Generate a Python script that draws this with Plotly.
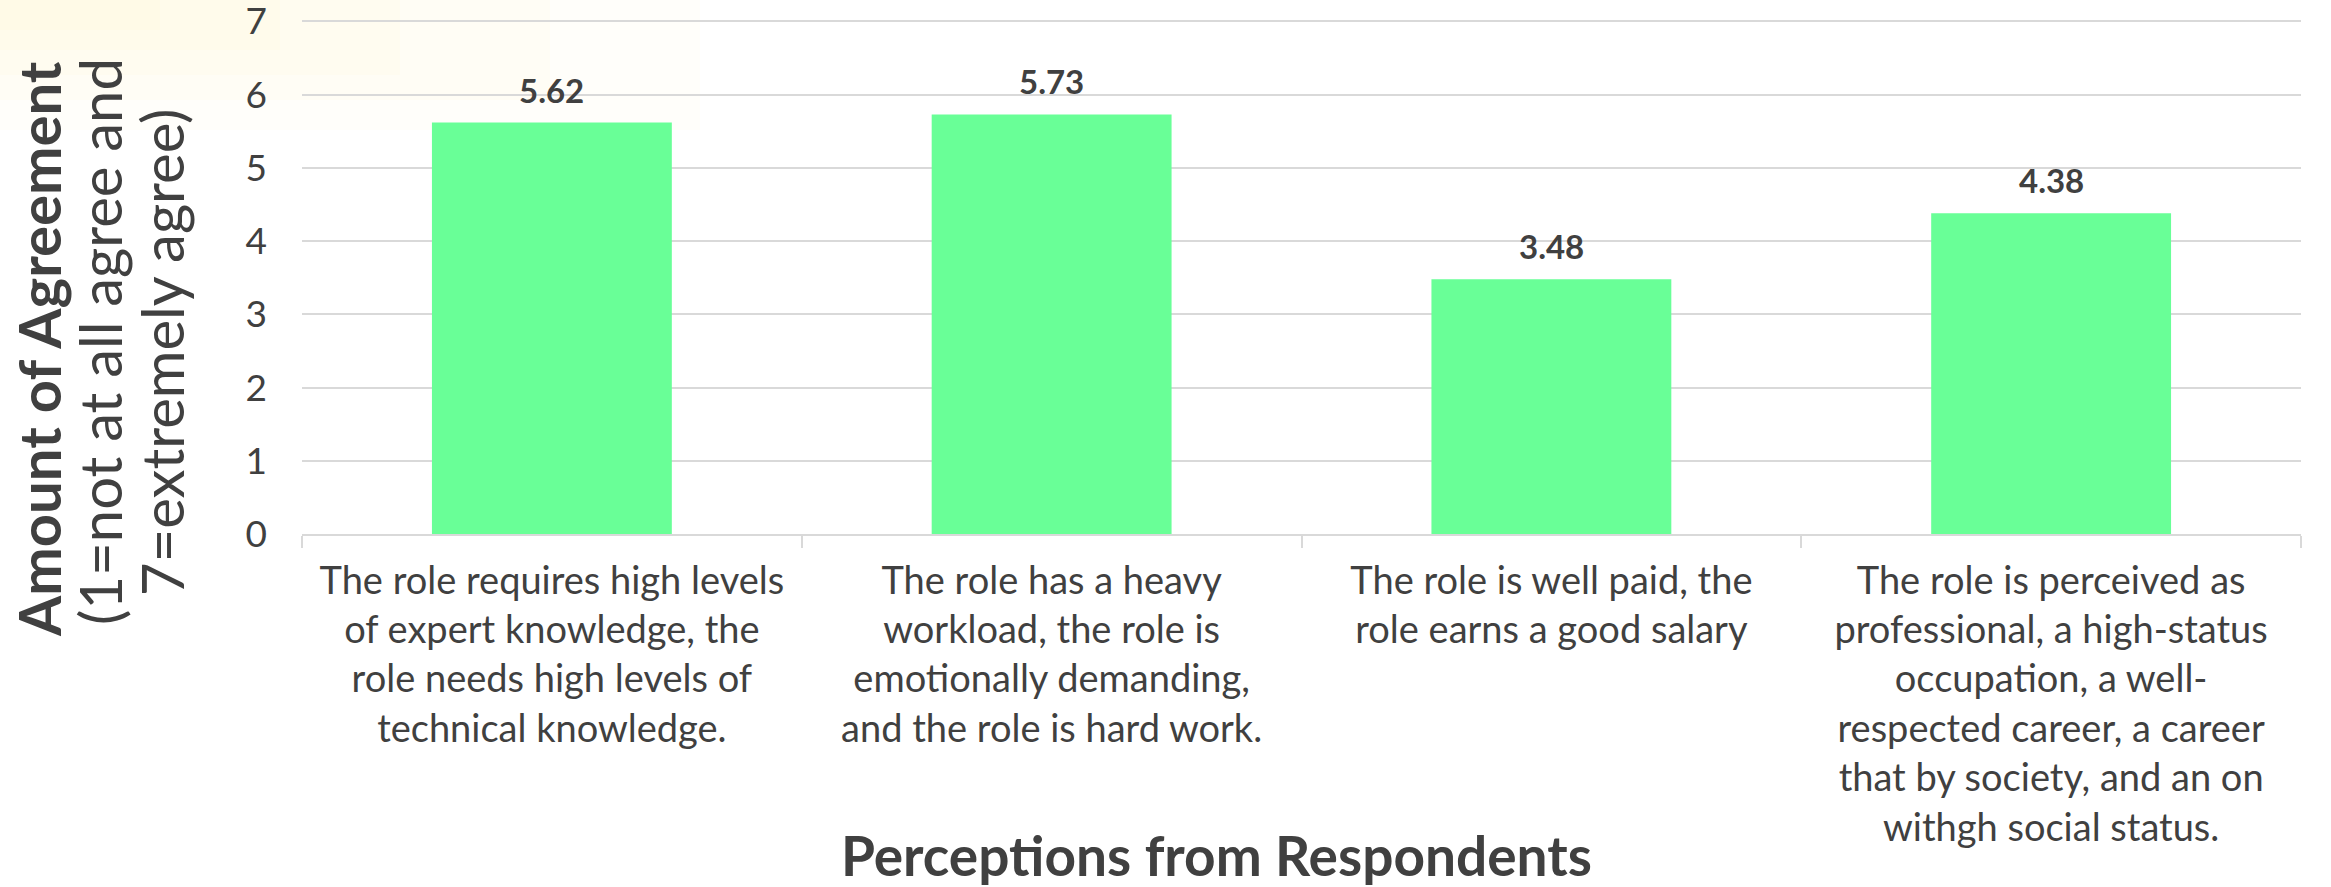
import plotly.graph_objects as go

categories = [
    "The role requires high levels<br>of expert knowledge, the<br>role needs high levels of<br>technical knowledge.",
    "The role has a heavy<br>workload, the role is<br>emotionally demanding,<br>and the role is hard work.",
    "The role is well paid, the<br>role earns a good salary",
    "The role is perceived as<br>professional, a high-status<br>occupation, a well-<br>respected career, a career<br>that by society, and an on<br>withgh social status.",
]
values = [5.62, 5.73, 3.48, 4.38]
y_ticks = [0, 1, 2, 3, 4, 5, 6, 7]
y_title_lines = ["<b>Amount of Agreement</b>", "(1=not at all agree and", "7=extremely agree)"]
x_title = "<b>Perceptions from Respondents</b>"

FONT = "Century Gothic, Lato, sans-serif"
TXT = "#404040"
GRID = "#d9d9d9"

W, H = 2331, 887
L, R, T, B = 302, 30, 20, 353
PW, PH = W - L - R, H - T - B


def px_x(X):
    return (X - L) / PW


def px_y(Y):
    return (T + PH - Y) / PH


fig = go.Figure(go.Bar(
    x=categories, y=values,
    marker=dict(color="#69FF97", line=dict(width=0)),
    hoverinfo="x+y",
))

# value labels above bars
for c, v in zip(categories, values):
    fig.add_annotation(
        x=c, y=v, xref="x", yref="y", text=f"<b>{v:.2f}</b>",
        showarrow=False, xanchor="center", yanchor="bottom", yshift=11,
        font=dict(family=FONT, size=33, color=TXT),
    )

# faint warm tint in the top-left corner
for w, h in [(700, 130), (550, 100), (400, 75), (280, 50), (160, 30)]:
    fig.add_shape(
        type="rect", xref="paper", yref="paper", layer="below",
        x0=px_x(0), x1=px_x(w), y0=px_y(h), y1=px_y(0),
        fillcolor="rgba(250,230,170,0.06)", line=dict(width=0),
    )

fig.update_layout(
    width=W, height=H,
    margin=dict(l=L, r=R, t=T, b=B, autoexpand=False),
    paper_bgcolor="white", plot_bgcolor="rgba(0,0,0,0)",
    bargap=0.52,
    showlegend=False,
    font=dict(family=FONT, color=TXT),
    xaxis=dict(
        automargin=False,
        showgrid=False,
        showline=True, linecolor=GRID, linewidth=2,
        ticks="outside", tickson="boundaries", ticklen=12, tickcolor=GRID, tickwidth=2,
        ticklabelstandoff=12,
        tickfont=dict(family=FONT, size=38, color=TXT),
    ),
    yaxis=dict(
        automargin=False,
        range=[0, 7.02], tickvals=y_ticks,
        showgrid=True, gridcolor=GRID, gridwidth=2,
        zeroline=False, showline=False,
        ticks="", ticklabelstandoff=34, ticklabeloverflow="allow",
        tickfont=dict(family=FONT, size=37, color=TXT),
    ),
)

# y-axis title: three rotated lines
for txt, X, Y in zip(y_title_lines, [38, 99, 162], [349, 342, 353]):
    fig.add_annotation(
        xref="paper", yref="paper", x=px_x(X), y=px_y(Y),
        xanchor="center", yanchor="middle",
        textangle=-90, showarrow=False,
        text=txt, font=dict(family=FONT, size=58, color=TXT),
    )

# x-axis title
fig.add_annotation(
    xref="paper", yref="paper", x=px_x(1216), y=px_y(855),
    xanchor="center", yanchor="middle", showarrow=False,
    text=x_title, font=dict(family=FONT, size=55, color=TXT),
)

fig.write_html(
    "out.html",
    config={"displayModeBar": False},
    post_script="document.body.style.margin='0';",
)
